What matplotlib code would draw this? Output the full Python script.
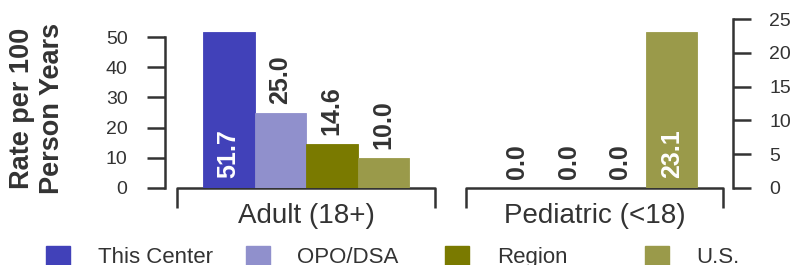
import matplotlib
matplotlib.use("Agg")
import matplotlib.pyplot as plt
from matplotlib.patches import Rectangle

plt.rcParams['font.family'] = ['Liberation Sans', 'DejaVu Sans']

# data
groups = ['Adult (18+)', 'Pediatric (<18)']
series = ['This Center', 'OPO/DSA', 'Region', 'U.S.']
adult = [51.7, 25.0, 14.6, 10.0]
pediatric = [0.0, 0.0, 0.0, 23.1]
left_ticks = [0, 10, 20, 30, 40, 50]
right_ticks = [0, 5, 10, 15, 20, 25]
colors = ['#4141B9', '#9090CC', '#7A7A00', '#9A9A4A']
ylabel = 'Rate per 100\nPerson Years'

W, H = 792, 265
dark = '#333333'

fig = plt.figure(figsize=(W / 100, H / 100), dpi=100)
# axes box in pixels: x 165..733, y 19..188 (from top)
ax = fig.add_axes([165 / W, (H - 188) / H, (733 - 165) / W, (188 - 19) / H])
ax2 = ax.twinx()

gap = 5.6
bar_w = 1.0
left_max = 56
right_max = 25


def draw_group(a, vals, offset, ymax):
    for i, v in enumerate(vals):
        x = offset + i + 0.5
        a.bar(x, v, width=bar_w, color=colors[i], edgecolor=colors[i],
              linewidth=0.6, zorder=3)
        if v > 0.6 * ymax:
            a.annotate('%.1f' % v, (x, 0), xytext=(0, 7), textcoords='offset points',
                       rotation=90, ha='center', va='bottom', color='white',
                       fontsize=18, fontweight='bold', zorder=4)
        else:
            a.annotate('%.1f' % v, (x, v), xytext=(0, 6.5), textcoords='offset points',
                       rotation=90, ha='center', va='bottom', color=dark,
                       fontsize=18, fontweight='bold', zorder=4)


draw_group(ax, adult, 0, left_max)
draw_group(ax2, pediatric, gap, right_max)

ax.set_xlim(-0.738, 10.29)
ax.set_ylim(0, left_max)
ax2.set_ylim(0, right_max)

for s in ['top', 'right', 'bottom']:
    ax.spines[s].set_visible(False)
for s in ['top', 'left', 'bottom']:
    ax2.spines[s].set_visible(False)
ax.spines['left'].set_bounds(0, 50)
ax2.spines['right'].set_bounds(0, 25)
ax.spines['left'].set_linewidth(1.8)
ax2.spines['right'].set_linewidth(1.8)
ax.spines['left'].set_color(dark)
ax2.spines['right'].set_color(dark)

ax.set_yticks(left_ticks)
ax2.set_yticks(right_ticks)
ax.set_xticks([])
ax.tick_params(axis='y', direction='out', length=13, width=1.8, pad=14,
               labelsize=14, color=dark, labelcolor=dark)
ax2.tick_params(axis='y', direction='out', length=13, width=1.8, pad=13,
                labelsize=14, color=dark, labelcolor=dark)

# group brackets and labels
tr = ax.get_xaxis_transform()
drop = -20 / 169
for j, g in enumerate(groups):
    off = j * gap
    x0, x1 = off - 0.5, off + 4.5
    ax.plot([x0, x0, x1, x1], [drop, 0, 0, drop], color=dark, lw=1.8,
            transform=tr, clip_on=False, zorder=2, solid_capstyle='butt')
    ax.text(off + 2, -35 / 169, g, transform=tr, ha='center', va='baseline',
            fontsize=20, color=dark)

fig.text(37 / W, 1 - 108 / H, ylabel, rotation=90, ha='center', va='center',
         fontsize=19.5, fontweight='bold', color=dark, linespacing=1.2)

# legend
for i, name in enumerate(series):
    sx = 46 + 199.5 * i
    fig.patches.append(Rectangle((sx / W, (H - 270) / H), 24 / W, 24 / H,
                                 transform=fig.transFigure, color=colors[i]))
    fig.text((sx + 52) / W, (H - 263) / H, name, ha='left', va='baseline',
             fontsize=16, color=dark)

fig.savefig('out.png', dpi=100)
